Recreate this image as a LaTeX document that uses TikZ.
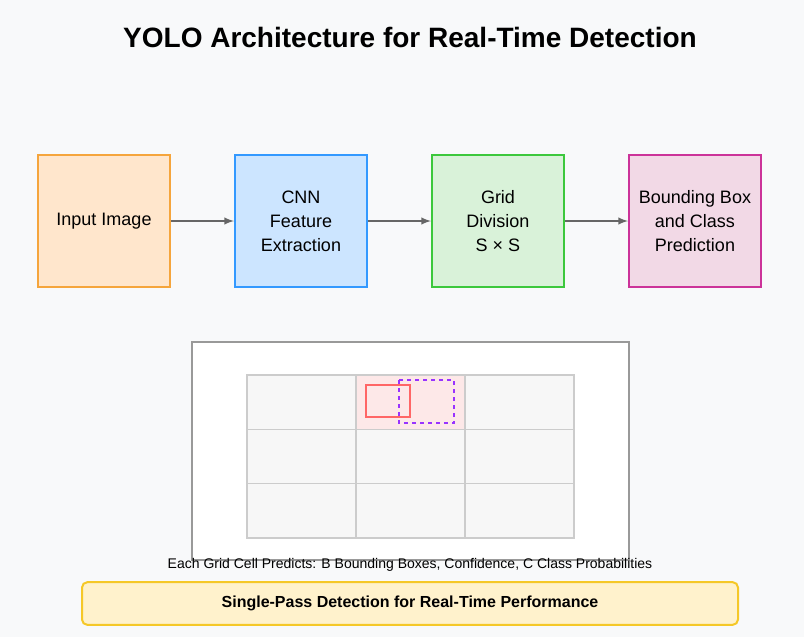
\documentclass[tikz,border=0pt]{standalone}
\usepackage{fontspec}
\setmainfont{Liberation Sans}
\begin{document}
\begin{tikzpicture}[x=0.75pt,y=-0.75pt,
 stage/.style={draw,line width=1.5pt,minimum width=99pt,minimum height=99pt,align=center,font=\fontsize{13.5}{18}\selectfont,inner sep=0},
 arr/.style={draw=black!60,line width=1.5pt,-latex},
 cell/.style={draw=black!20,fill=black!3,line width=0.8pt}]
\fill[fill={rgb,255:red,248;green,249;blue,250}] (0,0) rectangle (804,637);
\useasboundingbox (0,0) rectangle (804,637);
\node (title) at (410,37) {\fontsize{21}{25}\selectfont\bfseries YOLO Architecture for Real-Time Detection};
\node[stage,fill={rgb,255:red,255;green,230;blue,204},draw={rgb,255:red,245;green,165;blue,60}] (in) at (104,221) {Input Image};
\node[stage,fill={rgb,255:red,204;green,229;blue,255},draw={rgb,255:red,51;green,153;blue,255}] (cnn) at (301,221) {CNN\\Feature\\Extraction};
\node[stage,fill={rgb,255:red,217;green,242;blue,217},draw={rgb,255:red,60;green,200;blue,60}] (grid) at (498,221) {Grid\\Division\\S × S};
\node[stage,fill={rgb,255:red,242;green,217;blue,230},draw={rgb,255:red,204;green,51;blue,153}] (bb) at (695,221) {Bounding Box\\and Class\\Prediction};
\draw[arr] (in) -- (cnn);
\draw[arr] (cnn) -- (grid);
\draw[arr] (grid) -- (bb);
\draw[fill=white,draw=black!40,line width=1.5pt] (192,342) rectangle (629,560);
\foreach \i in {0,1,2}{\foreach \j in {0,1,2}{
 \draw[cell] (247+109*\i,375+54.33*\j) rectangle ++(109,54.33);}}
\draw[cell,fill={rgb,255:red,253;green,232;blue,232}] (356,375) rectangle ++(109,54.33);
\draw[draw={rgb,255:red,255;green,102;blue,102},line width=1.5pt] (366,385) rectangle (410,417);
\draw[draw={rgb,255:red,153;green,51;blue,255},line width=1.5pt,dashed] (399,380) rectangle (454,423);
\node (cap) at (410,565) {\fontsize{10.5}{12}\selectfont Each Grid Cell Predicts: B Bounding Boxes, Confidence, C Class Probabilities};
\node[draw={rgb,255:red,245;green,200;blue,40},fill={rgb,255:red,255;green,242;blue,204},line width=1.5pt,rounded corners=4pt,minimum width=492pt,minimum height=32pt] (foot) at (410,603.5) {\fontsize{12}{14}\selectfont\bfseries Single-Pass Detection for Real-Time Performance};
\end{tikzpicture}
\end{document}
